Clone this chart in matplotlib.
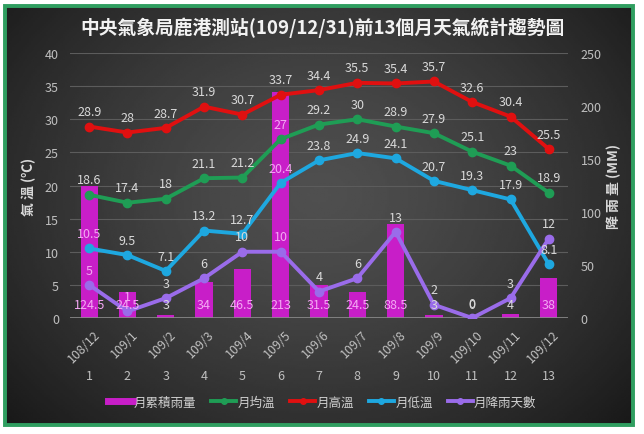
import numpy as np
import matplotlib
matplotlib.use('Agg')
import matplotlib.pyplot as plt
import matplotlib.transforms as mtransforms
from matplotlib.lines import Line2D
from matplotlib.patches import Rectangle

plt.rcParams['font.family'] = ['Noto Sans CJK TC', 'DejaVu Sans']

# データ
months = ['108/12', '109/1', '109/2', '109/3', '109/4', '109/5', '109/6',
          '109/7', '109/8', '109/9', '109/10', '109/11', '109/12']
idx = np.arange(1, 14)
rain = [124.5, 24.5, 3, 34, 46.5, 213, 31.5, 24.5, 88.5, 3, 0, 4, 38]
t_avg = [18.6, 17.4, 18, 21.1, 21.2, 27, 29.2, 30, 28.9, 27.9, 25.1, 23, 18.9]
t_high = [28.9, 28, 28.7, 31.9, 30.7, 33.7, 34.4, 35.5, 35.4, 35.7, 32.6, 30.4, 25.5]
t_low = [10.5, 9.5, 7.1, 13.2, 12.7, 20.4, 23.8, 24.9, 24.1, 20.7, 19.3, 17.9, 8.1]
rain_days = [5, 1, 3, 6, 10, 10, 4, 6, 13, 2, 0, 3, 12]

c_bar = '#c81ec8'
c_avg = '#1f9d55'
c_high = '#e01010'
c_low = '#1ea8e0'
c_days = '#9a6cea'
c_txt = '#d9d9d9'
c_pink = '#f4a8f4'
c_tick = '#bfbfbf'

fig = plt.figure(figsize=(6.44, 4.35), dpi=100, facecolor='white')

# 背景のグラデーション
bg = fig.add_axes([5/644, 9/435, 628/644, 419/435])
yy, xx = np.mgrid[0:1:200j, 0:1:300j]
r = np.sqrt(((xx - 0.5) / 0.62) ** 2 + ((yy - 0.45) / 0.75) ** 2)
shade = np.clip(0.31 - 0.19 * r ** 1.4, 0.09, 0.4)
bg.imshow(shade, cmap='gray', vmin=0, vmax=1, aspect='auto', extent=[0, 1, 0, 1])
bg.set_axis_off()
fig.patches.append(Rectangle((5/644, 9/435), 628/644, 419/435, transform=fig.transFigure,
                             fill=False, edgecolor='#2f9e60', linewidth=2.8))

ax = fig.add_axes([70/644, 116/435, 498/644, 265/435])
ax2 = ax.twinx()
ax.set_zorder(ax2.get_zorder() + 1)
ax.patch.set_visible(False)
ax2.patch.set_visible(False)

ax.set_xlim(0.5, 13.5)
ax.set_ylim(0, 40)
ax2.set_ylim(0, 250)
ax.set_yticks(range(0, 41, 5))
ax2.set_yticks(range(0, 251, 50))

# グリッド（棒の後ろ）
gtrans = mtransforms.blended_transform_factory(ax2.transAxes, ax.transData)
for t in range(5, 41, 5):
    ax2.plot([0, 1], [t, t], transform=gtrans, color='#5c5c5c', lw=0.8, zorder=0)
ax2.plot([0, 1], [0, 0], transform=gtrans, color='#8c8c8c', lw=1.2, zorder=3)

ax2.bar(idx, rain, width=0.45, color=c_bar, zorder=2)

ax.plot(idx, t_avg, color=c_avg, lw=2.8, marker='o', ms=6)
ax.plot(idx, t_high, color=c_high, lw=2.8, marker='o', ms=6)
ax.plot(idx, t_low, color=c_low, lw=2.8, marker='o', ms=6)
ax.plot(idx, rain_days, color=c_days, lw=2.8, marker='o', ms=6)

# ラベル（棒の中はピンク）
bar_top = [v * 40 / 250 for v in rain]
for series in [t_avg, t_high, t_low, rain_days]:
    for x, v in zip(idx, series):
        col = c_pink if v + 1.6 < bar_top[x - 1] else c_txt
        ax.annotate(f'{v:g}', (x, v), xytext=(0, 6), textcoords='offset points',
                    ha='center', va='bottom', fontsize=9, color=col)
for x, v in zip(idx, rain):
    col = c_pink if 2.0 < bar_top[x - 1] else c_txt
    ax.annotate(f'{v:g}', (x, 0), xytext=(0, 9.5), textcoords='offset points',
                ha='center', va='center', fontsize=9, color=col)

# 軸
ax.set_xticks(idx)
ax.set_xticklabels([str(i) for i in idx])
ax.tick_params(axis='x', length=0, pad=37, labelsize=9, colors=c_tick)
ax.tick_params(axis='y', length=0, pad=8, labelsize=9, colors=c_tick)
ax2.tick_params(axis='y', length=0, pad=9, labelsize=9, colors=c_tick)
for a in (ax, ax2):
    for s in a.spines.values():
        s.set_visible(False)

off = mtransforms.ScaledTranslation(4/100, -9/100, fig.dpi_scale_trans)
for x, m in zip(idx, months):
    ax.text(x, 0, m, transform=ax.transData + off, rotation=45, ha='right', va='top',
            rotation_mode='anchor', fontsize=9, color=c_tick)

ax.set_ylabel('氣 溫 (℃)', color=c_txt, fontsize=10, fontweight='bold', labelpad=6)
ax2.set_ylabel('降 雨 量 (MM)', color=c_txt, fontsize=10, fontweight='bold', labelpad=4)

fig.text(0.5, 1 - 28/435, '中央氣象局鹿港測站(109/12/31)前13個月天氣統計趨勢圖',
         ha='center', va='center', fontsize=13.5, fontweight='bold', color='#f2f2f2')

handles = [Line2D([], [], color=c_bar, lw=5),
           Line2D([], [], color=c_avg, lw=2.8, marker='o', ms=4),
           Line2D([], [], color=c_high, lw=2.8, marker='o', ms=4),
           Line2D([], [], color=c_low, lw=2.8, marker='o', ms=4),
           Line2D([], [], color=c_days, lw=2.8, marker='o', ms=4)]
labels = ['月累積雨量', '月均溫', '月高溫', '月低溫', '月降雨天數']
fig.legend(handles, labels, loc='center', bbox_to_anchor=(0.5, 32/435), ncol=5,
           frameon=False, fontsize=9, labelcolor='#d0d0d0', handlelength=2.0,
           handletextpad=0.1, columnspacing=1.2)

fig.savefig('out.png', dpi=100, facecolor=fig.get_facecolor())
